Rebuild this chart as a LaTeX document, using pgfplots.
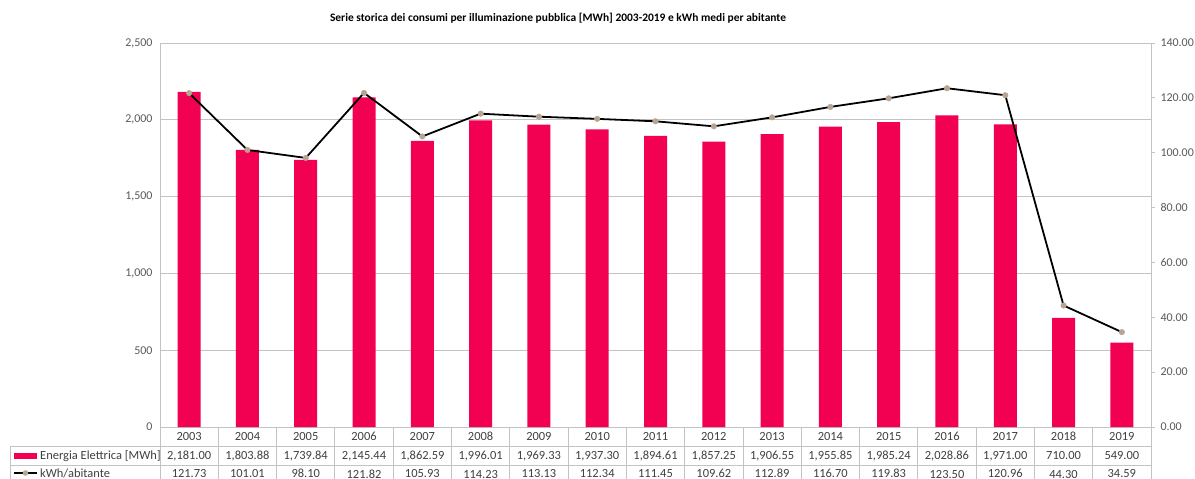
\documentclass[border=0pt]{standalone}
\usepackage{pgfplots}
\pgfplotsset{compat=1.18}
\usepackage{fontspec}
\setmainfont{Carlito}
\definecolor{barred}{RGB}{242,0,82}
\definecolor{mk}{RGB}{184,164,146}
\definecolor{gridc}{RGB}{195,195,195}
\definecolor{txt}{RGB}{64,64,64}
\definecolor{ticktxt}{RGB}{89,89,89}

\begin{document}
\begin{tikzpicture}
\path[use as bounding box] (-160bp,-52bp) rectangle (1035bp,427bp);
% left axis: bars + data table rows as tick labels
\begin{axis}[
    at={(0,0)}, anchor=south west,
    scale only axis, width=991bp, height=384bp,
    xmin=-0.5, xmax=16.5, ymin=0, ymax=2500,
    ytick={0,500,...,2500},
    axis x line*=bottom, axis y line*=left,
    axis line style={gridc, line width=0.8pt},
    ymajorgrids, grid style={gridc, line width=0.8pt},
    ytick style={draw=none},
    xtick style={draw=none},
    yticklabel style={font=\fontsize{12}{14}\selectfont, text=ticktxt, xshift=-4bp},
    /pgf/number format/.cd, fixed, precision=0, 1000 sep={,}, assume math mode=true, /pgfplots/.cd,
    xtick={0,...,16},
    xticklabels={
      {2003\\2,181.00\\121.73},{2004\\1,803.88\\101.01},{2005\\1,739.84\\98.10},
      {2006\\2,145.44\\121.82},{2007\\1,862.59\\105.93},{2008\\1,996.01\\114.23},
      {2009\\1,969.33\\113.13},{2010\\1,937.30\\112.34},{2011\\1,894.61\\111.45},
      {2012\\1,857.25\\109.62},{2013\\1,906.55\\112.89},{2014\\1,955.85\\116.70},
      {2015\\1,985.24\\119.83},{2016\\2,028.86\\123.50},{2017\\1,971.00\\120.96},
      {2018\\710.00\\44.30},{2019\\549.00\\34.59}},
    xticklabel style={align=center, font=\fontsize{12.5}{18.8}\selectfont, text=txt,
      inner sep=0pt, anchor=north, yshift=-5bp},
    extra x ticks={-0.5,0.5,...,16.5},
    extra x tick labels={},
    extra x tick style={major tick length=52bp, tick align=outside,
      xtick style={draw=gridc, line width=0.8pt}, grid=none},
]
\addplot[ybar, bar width=23bp, fill=barred, draw=none] coordinates {
  (0,2181.00) (1,1803.88) (2,1739.84) (3,2145.44) (4,1862.59) (5,1996.01)
  (6,1969.33) (7,1937.30) (8,1894.61) (9,1857.25) (10,1906.55) (11,1955.85)
  (12,1985.24) (13,2028.86) (14,1971.00) (15,710.00) (16,549.00)};
\end{axis}
% right axis: kWh per inhabitant
\begin{axis}[
    at={(0,0)}, anchor=south west,
    scale only axis, width=991bp, height=384bp,
    xmin=-0.5, xmax=16.5, ymin=0, ymax=140,
    ytick={0,20,...,140},
    axis y line*=right, axis x line=none,
    axis line style={gridc, line width=0.8pt},
    ytick style={draw=gridc, line width=0.8pt},
    tick align=outside, major tick length=4bp,
    yticklabel style={font=\fontsize{12}{14}\selectfont, text=ticktxt, xshift=2bp},
    /pgf/number format/.cd, fixed, fixed zerofill, precision=2, assume math mode=true, /pgfplots/.cd,
    clip=false,
]
\addplot[black, line width=1.8pt, mark=*, mark size=2.8bp,
    mark options={fill=mk, draw=mk, line width=0.4pt}] coordinates {
  (0,121.73) (1,101.01) (2,98.10) (3,121.82) (4,105.93) (5,114.23)
  (6,113.13) (7,112.34) (8,111.45) (9,109.62) (10,112.89) (11,116.70)
  (12,119.83) (13,123.50) (14,120.96) (15,44.30) (16,34.59)};
\end{axis}
% table frame and legend column
\draw[gridc, line width=0.8pt] (-150bp,-19bp) -- (991bp,-19bp);
\draw[gridc, line width=0.8pt] (-150bp,-38bp) -- (991bp,-38bp);
\draw[gridc, line width=0.8pt] (-150bp,-19bp) -- (-150bp,-52bp);
\fill[barred] (-146bp,-32bp) rectangle (-123bp,-26bp);
\node[anchor=west, inner sep=0pt, text=txt, font=\fontsize{12.5}{15}\selectfont] at (-120bp,-29bp) {Energia Elettrica [MWh]};
\draw[black, line width=1.6pt] (-146bp,-46bp) -- (-123bp,-46bp);
\fill[mk] (-134.5bp,-46bp) circle (2.8bp);
\node[anchor=west, inner sep=0pt, text=txt, font=\fontsize{12.5}{15}\selectfont] at (-120bp,-46bp) {kWh/abitante};
% title
\node[font=\bfseries\fontsize{11.5}{14}\selectfont] at (398bp,409bp) {Serie storica dei consumi per illuminazione pubblica [MWh] 2003-2019 e kWh medi per abitante};
\end{tikzpicture}
\end{document}
